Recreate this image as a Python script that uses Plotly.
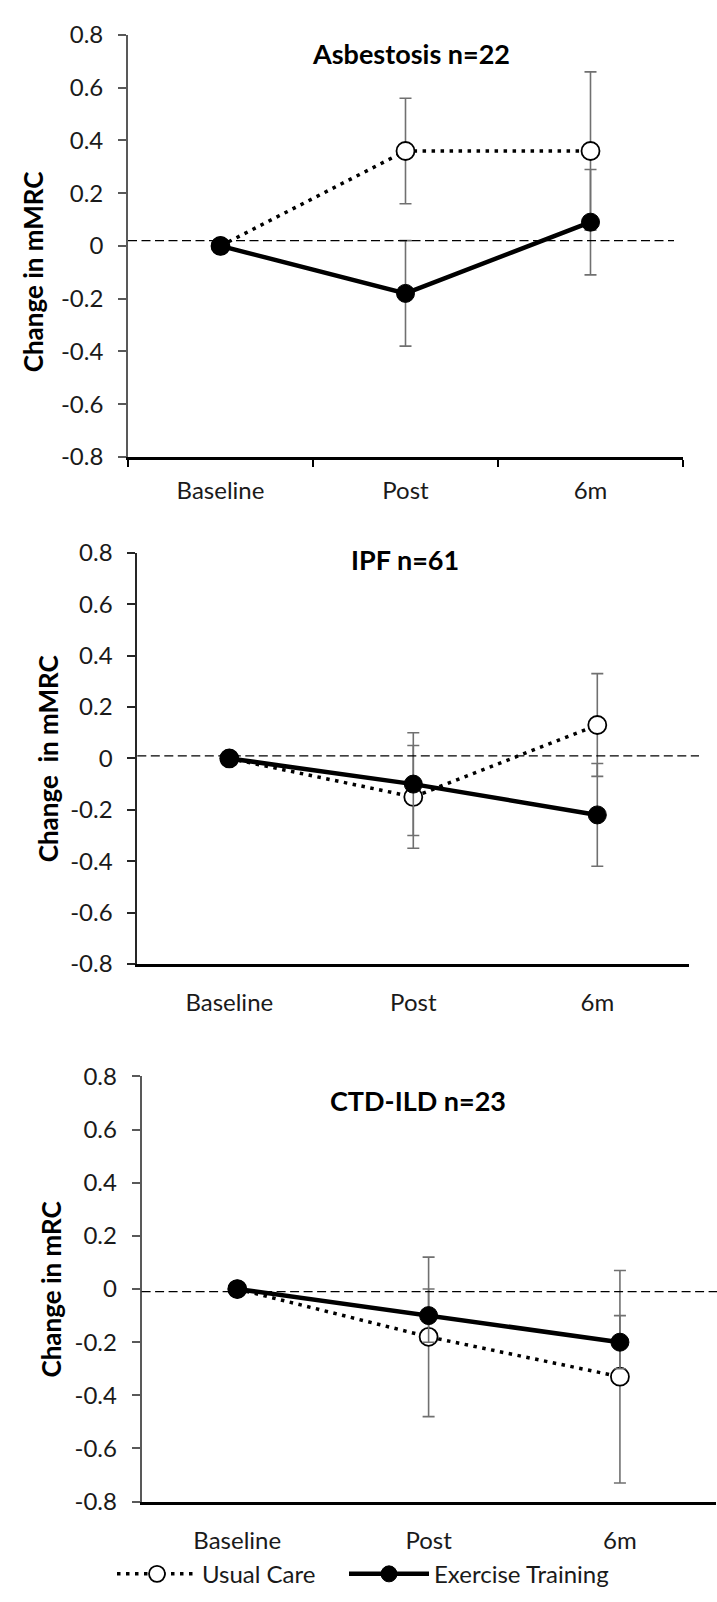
import plotly.graph_objects as go

# ---- data ----
timepoints = ["Baseline", "Post", "6m"]
y_tick_values = [0.8, 0.6, 0.4, 0.2, 0, -0.2, -0.4, -0.6, -0.8]
y_tick_labels = ["0.8", "0.6", "0.4", "0.2", "0", "-0.2", "-0.4", "-0.6", "-0.8"]

panel_titles = ["Asbestosis n=22", "IPF n=61", "CTD-ILD n=23"]
panel_y_titles = ["Change in mMRC", "Change  in mMRC", "Change in mRC"]

usual_care_mean = [[0, 0.36, 0.36], [0, -0.15, 0.13], [0, -0.18, -0.33]]
usual_care_err = [[0, 0.20, 0.30], [0, 0.20, 0.20], [0, 0.30, 0.40]]
exercise_mean = [[0, -0.18, 0.09], [0, -0.10, -0.22], [0, -0.10, -0.20]]
exercise_err = [[0, 0.20, 0.20], [0, 0.20, 0.20], [0, 0.10, 0.10]]
reference_level = [0.02, 0.01, -0.01]

# ---- page geometry (pixels) ----
W, H = 717, 1602
FONT = "Lato"
panels = [
    dict(x0=128, x1=683, top=19.3, bottom=449, ref_x1=674, axis_col="#595959",
         xticks="outside", standoff=11, title_xy=(411, 38), ytitle_xy=(33, 261)),
    dict(x0=137.3, x1=689.3, top=546.8, bottom=965.4, ref_x1=699, axis_col="#262626",
         xticks="", standoff=16, title_xy=(405, 554), ytitle_xy=(48, 756)),
    dict(x0=141.6, x1=715.6, top=1080, bottom=1513, ref_x1=717, axis_col="#595959",
         xticks="", standoff=16, title_xy=(418, 1105), ytitle_xy=(51, 1297)),
]


def px(x):
    return x / W


def py(y):
    return 1 - y / H


fig = go.Figure()
annotations = []
shapes = []

for i, p in enumerate(panels):
    n = "" if i == 0 else str(i + 1)
    xa, ya = "x" + n, "y" + n
    show = i == 2

    fig.add_trace(go.Scatter(
        x=timepoints, y=usual_care_mean[i], xaxis=xa, yaxis=ya,
        name="Usual Care", legend="legend", showlegend=show,
        mode="lines+markers",
        line=dict(color="black", width=3.5, dash="3.5px,5.5px"),
        marker=dict(size=18, color="white", line=dict(color="black", width=1.8)),
        error_y=dict(type="data", array=usual_care_err[i], color="#707070",
                     thickness=1.6, width=6),
    ))
    fig.add_trace(go.Scatter(
        x=timepoints, y=exercise_mean[i], xaxis=xa, yaxis=ya,
        name="Exercise Training", legend="legend2", showlegend=show,
        mode="lines+markers",
        line=dict(color="black", width=4.5),
        marker=dict(size=18, color="black", line=dict(color="black", width=1)),
        error_y=dict(type="data", array=exercise_err[i], color="#707070",
                     thickness=1.6, width=6),
    ))

    fig.layout["xaxis" + n] = dict(
        domain=[px(p["x0"]), px(p["x1"])], anchor=ya,
        type="category", categoryorder="array", categoryarray=timepoints,
        range=[-0.5, 2.5], showgrid=False, zeroline=False,
        showline=True, linecolor="black", linewidth=2.5,
        ticks=p["xticks"], tickson="boundaries", ticklen=7, tickwidth=1.5,
        tickcolor="black", ticklabelstandoff=p["standoff"],
        tickfont=dict(family=FONT, size=24, color="#1a1a1a"),
    )
    fig.layout["yaxis" + n] = dict(
        domain=[py(p["bottom"]), py(p["top"])], anchor=xa,
        range=[-0.8, 0.8], tickmode="array", tickvals=y_tick_values,
        ticktext=y_tick_labels, showgrid=False, zeroline=False,
        showline=True, linecolor=p["axis_col"], linewidth=1.8,
        ticks="outside", ticklen=8, tickwidth=1.5, tickcolor=p["axis_col"],
        ticklabelstandoff=10,
        tickfont=dict(family=FONT, size=24, color="#1a1a1a"),
    )

    # dashed reference line near zero
    shapes.append(dict(
        type="line", xref="paper", yref=ya,
        x0=px(p["x0"]), x1=px(p["ref_x1"]),
        y0=reference_level[i], y1=reference_level[i],
        line=dict(color="black", width=1.3, dash="9px,4.5px"), layer="above",
    ))

    tx, ty = p["title_xy"]
    annotations.append(dict(
        text="<b>" + panel_titles[i] + "</b>", xref="paper", yref="paper",
        x=px(tx), y=py(ty), xanchor="center", yanchor="middle", showarrow=False,
        font=dict(family=FONT, size=27, color="black"),
    ))
    yx, yy = p["ytitle_xy"]
    annotations.append(dict(
        text="<b>" + panel_y_titles[i] + "</b>", xref="paper", yref="paper",
        x=px(yx), y=py(yy), xanchor="center", yanchor="middle", showarrow=False,
        textangle=-90, font=dict(family=FONT, size=26, color="black"),
    ))

legend_style = dict(
    orientation="h", yanchor="middle", y=py(1587), xanchor="left",
    font=dict(family=FONT, size=24, color="#1a1a1a"),
    itemwidth=80, bgcolor="rgba(0,0,0,0)",
)

fig.update_layout(
    width=W, height=H, margin=dict(l=0, r=0, t=0, b=0),
    paper_bgcolor="white", plot_bgcolor="white",
    annotations=annotations, shapes=shapes,
    showlegend=True,
    legend=dict(legend_style, x=px(112)),
    legend2=dict(legend_style, x=px(344)),
)

fig.write_html("out.html")
